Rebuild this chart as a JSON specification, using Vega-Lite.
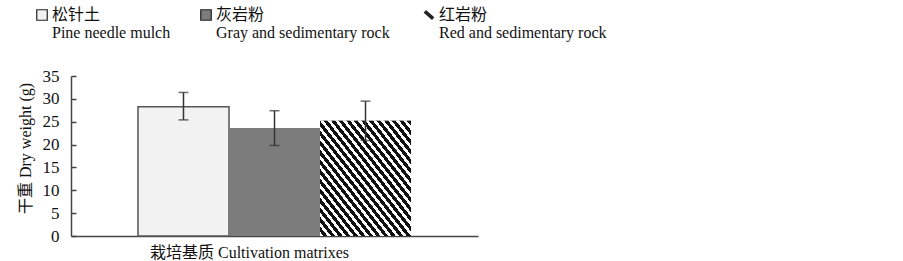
{
  "$schema": "https://vega.github.io/schema/vega-lite/v6.json",
  "width": 407,
  "height": 160,
  "autosize": {"type": "none"},
  "padding": {"left": 71, "top": 76, "right": 425, "bottom": 25},
  "background": "white",
  "config": {
    "font": "Liberation Serif, Noto Sans CJK SC",
    "view": {"stroke": null},
    "axis": {"labelFont": "Liberation Serif, Noto Sans CJK SC", "titleFont": "Liberation Serif, Noto Sans CJK SC"},
    "legend": {"labelFont": "Liberation Serif, Noto Sans CJK SC"}
  },
  "data": {
    "values": [
      {"sub": "松针土", "dw": 28.3, "lo": 25.4, "hi": 31.4},
      {"sub": "灰岩粉", "dw": 23.6, "lo": 19.8, "hi": 27.4},
      {"sub": "红岩粉", "dw": 25.2, "lo": 20.9, "hi": 29.5}
    ]
  },
  "encoding": {
    "x": {
      "field": "sub",
      "type": "nominal",
      "sort": ["松针土", "灰岩粉", "红岩粉"],
      "scale": {"paddingInner": 0, "paddingOuter": 0.736},
      "axis": {
        "labels": false,
        "ticks": false,
        "domainColor": "#444",
        "domainWidth": 1.5,
        "title": "栽培基质 Cultivation matrixes",
        "titleFont": "Liberation Serif, Noto Sans CJK SC",
        "titleFontSize": 16,
        "titleFontWeight": "normal",
        "titleColor": "#111",
        "titleX": 178,
        "titleY": 16,
        "titleBaseline": "middle"
      }
    },
    "y": {
      "field": "dw",
      "type": "quantitative",
      "scale": {"domain": [0, 35], "nice": false},
      "axis": {
        "values": [0, 5, 10, 15, 20, 25, 30, 35],
        "grid": false,
        "ticks": true,
        "tickSize": -5,
        "tickColor": "#444",
        "tickWidth": 1.5,
        "domainColor": "#444",
        "domainWidth": 1.5,
        "labelOverlap": false,
        "labelPadding": 17,
        "labelFont": "Liberation Serif",
        "labelFontSize": 17,
        "labelColor": "#111",
        "title": "干重 Dry weight (g)",
        "titleFont": "Liberation Serif, Noto Sans CJK SC",
        "titleFontSize": 16,
        "titleFontWeight": "normal",
        "titleColor": "#111",
        "titleX": -46,
        "titleY": 72,
        "titleBaseline": "middle"
      }
    }
  },
  "layer": [
    {
      "mark": {"type": "bar"},
      "encoding": {
        "fill": {
          "field": "sub",
          "type": "nominal",
          "scale": {"domain": ["松针土", "灰岩粉", "红岩粉"], "range": ["#f2f2f2", "#7c7c7c", "#555555"]},
          "legend": {
            "title": null,
            "orient": "none",
            "legendX": -37,
            "legendY": -69,
            "direction": "horizontal",
            "columns": 3,
            "columnPadding": 27,
            "padding": 0,
            "symbolType": "square",
            "symbolSize": 110,
            "symbolStrokeColor": "#222",
            "symbolStrokeWidth": 1,
            "labelOffset": 2,
            "labelFont": "Liberation Serif, Noto Sans CJK SC",
            "labelFontSize": 16,
            "labelColor": "#111",
            "labelLimit": 400,
            "labelBaseline": "middle",
            "labelExpr": "[datum.label, datum.label == '松针土' ? 'Pine needle mulch' : datum.label == '灰岩粉' ? 'Gray and sedimentary rock' : 'Red and sedimentary rock']",
            "encode": {
              "symbols": {
                "update": {
                  "shape": {"signal": "datum.value == '红岩粉' ? 'M-0.8,-0.7L0.8,0.7' : 'square'"},
                  "strokeWidth": {"signal": "datum.value == '红岩粉' ? 3.5 : 1.2"}
                }
              }
            }
          }
        },
        "stroke": {"condition": {"test": "datum.sub == '松针土'", "value": "#555"}, "value": "transparent"},
        "strokeWidth": {"condition": {"test": "datum.sub == '松针土'", "value": 1.5}, "value": 0}
      }
    },
    {
      "transform": [{"filter": "datum.sub == '红岩粉'"}],
      "mark": {
        "type": "bar",
        "fill": {
          "gradient": "linear",
          "x1": 0, "y1": 1, "x2": 1, "y2": 0,
          "stops": [
            {"offset": 0.0, "color": "#fff"}, {"offset": 0.01875, "color": "#fff"}, {"offset": 0.01875, "color": "#111"}, {"offset": 0.04167, "color": "#111"},
            {"offset": 0.04167, "color": "#fff"}, {"offset": 0.06042, "color": "#fff"}, {"offset": 0.06042, "color": "#111"}, {"offset": 0.08333, "color": "#111"},
            {"offset": 0.08333, "color": "#fff"}, {"offset": 0.10208, "color": "#fff"}, {"offset": 0.10208, "color": "#111"}, {"offset": 0.125, "color": "#111"},
            {"offset": 0.125, "color": "#fff"}, {"offset": 0.14375, "color": "#fff"}, {"offset": 0.14375, "color": "#111"}, {"offset": 0.16667, "color": "#111"},
            {"offset": 0.16667, "color": "#fff"}, {"offset": 0.18542, "color": "#fff"}, {"offset": 0.18542, "color": "#111"}, {"offset": 0.20833, "color": "#111"},
            {"offset": 0.20833, "color": "#fff"}, {"offset": 0.22708, "color": "#fff"}, {"offset": 0.22708, "color": "#111"}, {"offset": 0.25, "color": "#111"},
            {"offset": 0.25, "color": "#fff"}, {"offset": 0.26875, "color": "#fff"}, {"offset": 0.26875, "color": "#111"}, {"offset": 0.29167, "color": "#111"},
            {"offset": 0.29167, "color": "#fff"}, {"offset": 0.31042, "color": "#fff"}, {"offset": 0.31042, "color": "#111"}, {"offset": 0.33333, "color": "#111"},
            {"offset": 0.33333, "color": "#fff"}, {"offset": 0.35208, "color": "#fff"}, {"offset": 0.35208, "color": "#111"}, {"offset": 0.375, "color": "#111"},
            {"offset": 0.375, "color": "#fff"}, {"offset": 0.39375, "color": "#fff"}, {"offset": 0.39375, "color": "#111"}, {"offset": 0.41667, "color": "#111"},
            {"offset": 0.41667, "color": "#fff"}, {"offset": 0.43542, "color": "#fff"}, {"offset": 0.43542, "color": "#111"}, {"offset": 0.45833, "color": "#111"},
            {"offset": 0.45833, "color": "#fff"}, {"offset": 0.47708, "color": "#fff"}, {"offset": 0.47708, "color": "#111"}, {"offset": 0.5, "color": "#111"},
            {"offset": 0.5, "color": "#fff"}, {"offset": 0.51875, "color": "#fff"}, {"offset": 0.51875, "color": "#111"}, {"offset": 0.54167, "color": "#111"},
            {"offset": 0.54167, "color": "#fff"}, {"offset": 0.56042, "color": "#fff"}, {"offset": 0.56042, "color": "#111"}, {"offset": 0.58333, "color": "#111"},
            {"offset": 0.58333, "color": "#fff"}, {"offset": 0.60208, "color": "#fff"}, {"offset": 0.60208, "color": "#111"}, {"offset": 0.625, "color": "#111"},
            {"offset": 0.625, "color": "#fff"}, {"offset": 0.64375, "color": "#fff"}, {"offset": 0.64375, "color": "#111"}, {"offset": 0.66667, "color": "#111"},
            {"offset": 0.66667, "color": "#fff"}, {"offset": 0.68542, "color": "#fff"}, {"offset": 0.68542, "color": "#111"}, {"offset": 0.70833, "color": "#111"},
            {"offset": 0.70833, "color": "#fff"}, {"offset": 0.72708, "color": "#fff"}, {"offset": 0.72708, "color": "#111"}, {"offset": 0.75, "color": "#111"},
            {"offset": 0.75, "color": "#fff"}, {"offset": 0.76875, "color": "#fff"}, {"offset": 0.76875, "color": "#111"}, {"offset": 0.79167, "color": "#111"},
            {"offset": 0.79167, "color": "#fff"}, {"offset": 0.81042, "color": "#fff"}, {"offset": 0.81042, "color": "#111"}, {"offset": 0.83333, "color": "#111"},
            {"offset": 0.83333, "color": "#fff"}, {"offset": 0.85208, "color": "#fff"}, {"offset": 0.85208, "color": "#111"}, {"offset": 0.875, "color": "#111"},
            {"offset": 0.875, "color": "#fff"}, {"offset": 0.89375, "color": "#fff"}, {"offset": 0.89375, "color": "#111"}, {"offset": 0.91667, "color": "#111"},
            {"offset": 0.91667, "color": "#fff"}, {"offset": 0.93542, "color": "#fff"}, {"offset": 0.93542, "color": "#111"}, {"offset": 0.95833, "color": "#111"},
            {"offset": 0.95833, "color": "#fff"}, {"offset": 0.97708, "color": "#fff"}, {"offset": 0.97708, "color": "#111"}, {"offset": 1.0, "color": "#111"}
          ]
        }
      }
    },
    {
      "mark": {"type": "errorbar", "ticks": {"size": 10}, "color": "#333", "thickness": 1.5},
      "encoding": {
        "y": {"field": "lo", "type": "quantitative", "axis": {
          "values": [0, 5, 10, 15, 20, 25, 30, 35],
          "grid": false,
          "ticks": true,
          "tickSize": -5,
          "tickColor": "#444",
          "tickWidth": 1.5,
          "domainColor": "#444",
          "domainWidth": 1.5,
          "labelOverlap": false,
          "labelPadding": 17,
          "labelFont": "Liberation Serif",
          "labelFontSize": 17,
          "labelColor": "#111",
          "title": "干重 Dry weight (g)",
          "titleFont": "Liberation Serif, Noto Sans CJK SC",
          "titleFontSize": 16,
          "titleFontWeight": "normal",
          "titleColor": "#111",
          "titleX": -46,
          "titleY": 72,
          "titleBaseline": "middle"
        }},
        "y2": {"field": "hi"}
      }
    }
  ]
}
